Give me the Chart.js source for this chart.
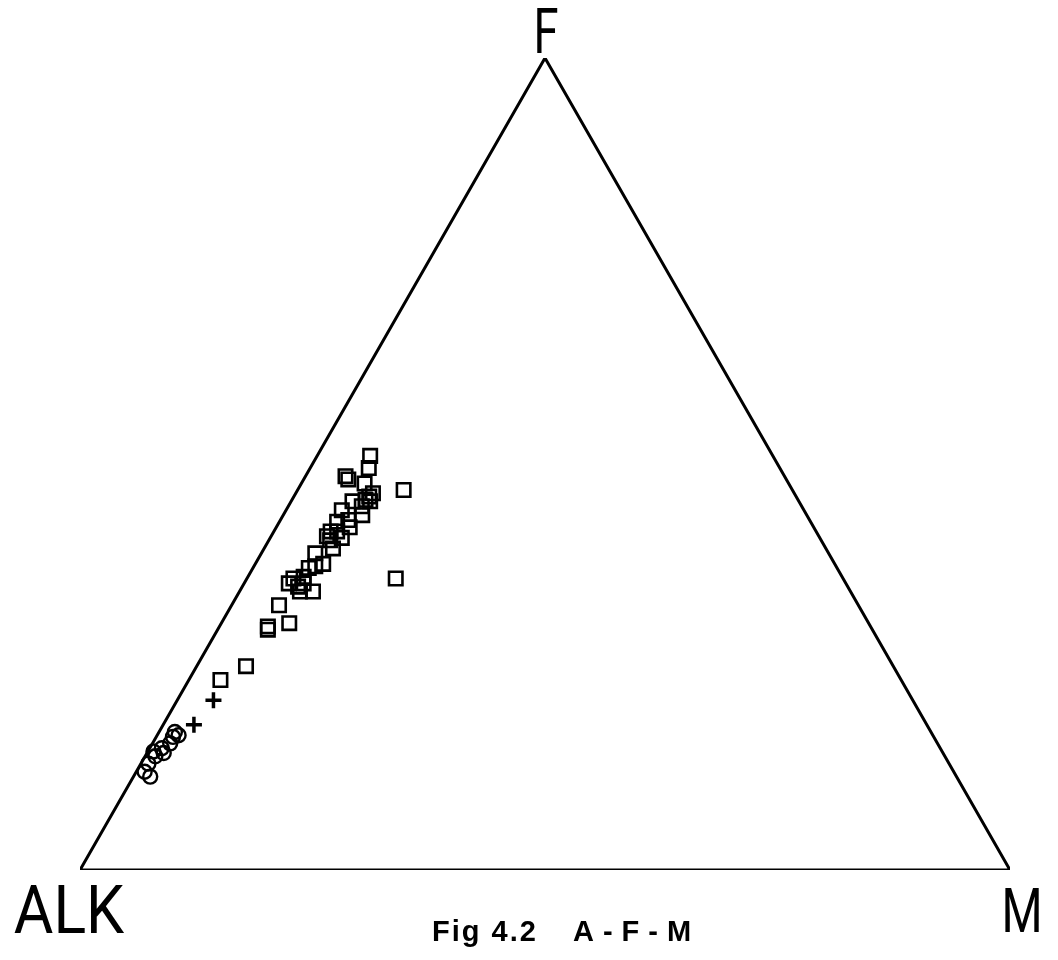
<!DOCTYPE html>
<html>
<head>
<meta charset="utf-8">
<title>A-F-M</title>
<script src="https://cdn.jsdelivr.net/npm/chart.js@4"></script>
<style>
  body { margin: 0; background: #fff; }
  #wrap { width: 1058px; height: 960px; position: relative; }
</style>
</head>
<body>
<div id="wrap"><canvas id="afm"></canvas></div>
<script>
// ternary data, F and M in percent (ALK = 100 - F - M)
const vertexLabels = ["ALK", "F", "M"];

const squareF = [51.0, 49.5, 48.5, 48.1, 46.8, 47.6, 46.0, 45.4, 45.6, 45.4,
  44.3, 43.7, 43.1, 42.9, 42.2, 41.7, 40.9, 40.6, 39.6, 39.0, 37.7, 37.4,
  36.1, 35.3, 34.9, 34.3, 34.3, 35.9, 32.6, 30.0, 29.6, 30.4, 25.1, 23.4,
  46.4, 44.8, 41.7, 41.1, 37.2, 35.9, 35.3];
const squareM = [5.7, 6.3, 4.3, 4.8, 11.4, 6.8, 8.1, 8.5, 7.9, 6.6,
  6.0, 8.5, 7.3, 6.2, 7.9, 6.1, 7.7, 6.6, 7.4, 5.8, 7.3, 6.6,
  6.0, 4.8, 6.0, 7.9, 6.5, 16.0, 5.1, 5.2, 5.4, 7.3, 5.3, 3.4,
  8.3, 7.9, 6.8, 6.0, 6.0, 5.0, 6.4];

const plusF = [20.9, 17.9];
const plusM = [3.9, 3.3];

const circleF = [17.0, 16.6, 15.6, 15.0, 14.0, 13.1, 12.1, 11.5, 14.4, 16.4, 14.6];
const circleM = [1.7, 2.3, 1.9, 1.3, 1.1, 0.8, 0.9, 1.8, 1.8, 1.8, 0.6];

// F at the apex, ALK bottom left, M bottom right
function toXY(f, m) {
  return f.map((val, i) => ({ x: m[i] + val / 2, y: val }));
}

const cornerLabels = {
  id: "cornerLabels",
  afterDraw(chart) {
    const { ctx } = chart;
    const xs = chart.scales.x;
    const ys = chart.scales.y;
    const alk = { x: xs.getPixelForValue(0), y: ys.getPixelForValue(0) };
    const mg = { x: xs.getPixelForValue(100), y: ys.getPixelForValue(0) };
    const fe = { x: xs.getPixelForValue(50), y: ys.getPixelForValue(100) };

    ctx.save();
    ctx.fillStyle = "#000";
    ctx.textAlign = "center";
    ctx.textBaseline = "alphabetic";

    function drawScaled(text, cx, base, size, sx) {
      ctx.save();
      ctx.translate(cx, base);
      ctx.scale(sx, 1);
      ctx.font = `${size}px Roboto, "Liberation Sans", sans-serif`;
      ctx.fillText(text, 0, 0);
      ctx.restore();
    }

    drawScaled(vertexLabels[0], alk.x - 11, alk.y + 63, 66, 0.92);
    drawScaled(vertexLabels[1], fe.x + 1, fe.y - 5, 63, 0.72);
    drawScaled(vertexLabels[2], mg.x + 12, mg.y + 62, 62, 0.76);

    // caption
    ctx.textAlign = "left";
    ctx.font = 'bold 29px "Liberation Sans", Arial, sans-serif';
    ctx.letterSpacing = "2px";
    ctx.fillText("Fig 4.2", 432, 941);
    ctx.letterSpacing = "9px";
    ctx.fillText("A-F-M", 573, 941);
    ctx.restore();
  },
};

new Chart(document.getElementById("afm"), {
  type: "scatter",
  data: {
    datasets: [
      {
        label: "frame",
        data: [
          { x: 0, y: 0 },
          { x: 100, y: 0 },
          { x: 50, y: 100 },
          { x: 0, y: 0 },
        ],
        showLine: true,
        borderColor: "#000",
        borderWidth: 3,
        pointRadius: 0,
        fill: false,
      },
      {
        label: "squares",
        data: toXY(squareF, squareM),
        pointStyle: "rect",
        pointRadius: 9.5,
        borderWidth: 2.6,
        borderColor: "#000",
        backgroundColor: "rgba(0,0,0,0)",
      },
      {
        label: "plus",
        data: toXY(plusF, plusM),
        pointStyle: "cross",
        pointRadius: 8,
        borderWidth: 3.5,
        borderColor: "#000",
      },
      {
        label: "circles",
        data: toXY(circleF, circleM),
        pointStyle: "circle",
        pointRadius: 7,
        borderWidth: 2.4,
        borderColor: "#000",
        backgroundColor: "rgba(0,0,0,0)",
      },
    ],
  },
  options: {
    responsive: true,
    maintainAspectRatio: false,
    animation: false,
    layout: { padding: { left: 80, right: 48, top: 58, bottom: 90 } },
    plugins: { legend: { display: false }, tooltip: { enabled: false } },
    scales: {
      x: { type: "linear", min: 0, max: 100, display: false },
      y: { type: "linear", min: 0, max: 100, display: false },
    },
  },
  plugins: [cornerLabels],
});
</script>
</body>
</html>
